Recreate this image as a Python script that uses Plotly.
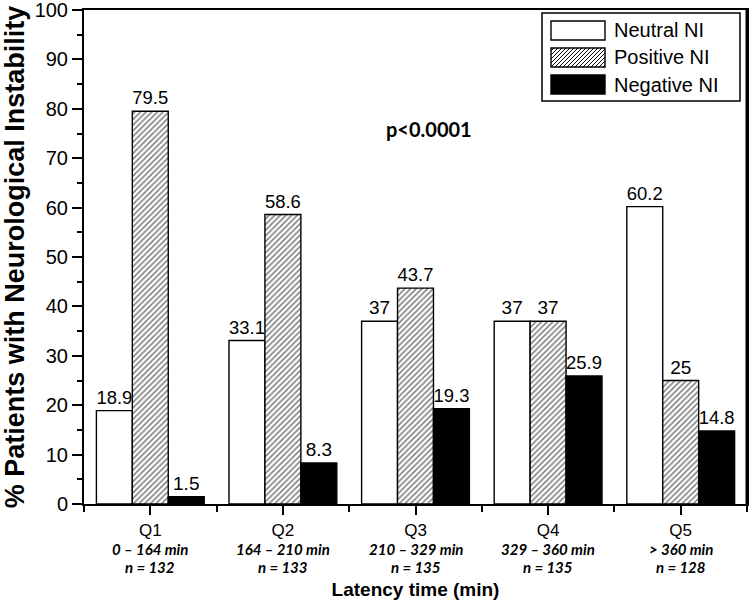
import plotly.graph_objects as go

categories = ["Q1", "Q2", "Q3", "Q4", "Q5"]
ranges = ["0 – 164 min", "164 – 210 min", "210 – 329 min", "329 – 360 min", "> 360 min"]
counts = ["n = 132", "n = 133", "n = 135", "n = 135", "n = 128"]
neutral = [18.9, 33.1, 37, 37, 60.2]
positive = [79.5, 58.6, 43.7, 37, 25]
negative = [1.5, 8.3, 19.3, 25.9, 14.8]
series_names = ["Neutral NI", "Positive NI", "Negative NI"]
y_ticks = [0, 10, 20, 30, 40, 50, 60, 70, 80, 90, 100]
p_text = "p<0.0001"

W, H = 749, 605
ML, MR, MT, MB = 84, 2, 10, 101
PW, PH = W - ML - MR, H - MT - MB

def px2paper(x, y):
    return (x - ML) / PW, (H - MB - y) / PH

xpos = list(range(len(categories)))

label_font = dict(family="Liberation Sans, Arial", size=19, color="black")
outline = dict(color="black", width=1.4)

fig = go.Figure()
fig.add_bar(x=xpos, y=neutral, name=series_names[0], marker=dict(color="white", line=outline),
            texttemplate="%{y}", textposition="outside", textfont=label_font,
            cliponaxis=False, showlegend=False)
fig.add_bar(x=xpos, y=positive, name=series_names[1],
            marker=dict(color="white", line=outline,
                        pattern=dict(shape="/", fgcolor="black", bgcolor="white", size=4, solidity=0.38)),
            texttemplate="%{y}", textposition="outside", textfont=label_font,
            cliponaxis=False, showlegend=False)
fig.add_bar(x=xpos, y=negative, name=series_names[2], marker=dict(color="black", line=outline),
            texttemplate="%{y}", textposition="outside", textfont=label_font,
            cliponaxis=False, showlegend=False)

fig.update_layout(
    width=W, height=H,
    margin=dict(l=ML, r=MR, t=MT, b=MB, autoexpand=False),
    plot_bgcolor="white", paper_bgcolor="white",
    barmode="group", bargap=0.187, bargroupgap=0,
    font=dict(family="Liberation Sans, Arial", color="black"),
)
fig.update_xaxes(
    automargin=False,
    range=[-0.5, len(categories) - 0.5], tickmode="array", tickvals=xpos, ticktext=categories,
    tickfont=dict(size=17, family="Liberation Sans, Arial"), ticklabelstandoff=1,
    ticklabeloverflow="allow",
    ticks="outside", ticklen=9, tickwidth=2, tickcolor="black",
    minor=dict(tickmode="linear", tick0=0.5, dtick=1, ticks="outside", ticklen=6, tickwidth=2, tickcolor="black"),
    showline=True, linecolor="black", linewidth=2, mirror=True, showgrid=False, zeroline=False,
    title=dict(text="<b>Latency time (min)</b>", font=dict(size=19, family="Liberation Sans, Arial"), standoff=43),
)
fig.update_yaxes(
    automargin=False,
    range=[0, 100.001], tickmode="array", tickvals=y_ticks, ticklabeloverflow="allow",
    tickfont=dict(size=20, family="Liberation Sans, Arial"),
    ticks="outside", ticklen=10, tickwidth=2, tickcolor="black",
    minor=dict(tickmode="linear", tick0=5, dtick=10, ticks="outside", ticklen=5, tickwidth=2, tickcolor="black"),
    showline=True, linecolor="black", linewidth=2, mirror=True, showgrid=False, zeroline=False,
    title=dict(text="<b>% Patients with Neurological Instability</b>", font=dict(size=27, family="Liberation Sans, Arial"), standoff=22),
)

# sub-labels under categories
sub_font = dict(family="Lato", size=15, color="black")
for xp, r, n in zip(xpos, ranges, counts):
    fig.add_annotation(x=xp, y=px2paper(0, 549)[1], xref="x", yref="paper", text=f"<b><i>{r}</i></b>",
                       showarrow=False, font=sub_font, yanchor="middle")
    fig.add_annotation(x=xp, y=px2paper(0, 567)[1], xref="x", yref="paper", text=f"<b><i>{n}</i></b>",
                       showarrow=False, font=sub_font, yanchor="middle")

fig.add_annotation(x=2.1, y=76, xref="x", yref="y", text=f"<b>{p_text}</b>", showarrow=False,
                   font=dict(family="Lato", size=20, color="black"))

# thicker right frame
fig.add_shape(type="line", xref="paper", yref="paper", x0=1, x1=1, y0=0, y1=1,
              line=dict(color="black", width=3))

# custom legend
bx0, by0 = px2paper(542, 13)
bx1, by1 = px2paper(740, 101)
fig.add_shape(type="rect", xref="paper", yref="paper", x0=bx0, y0=by1, x1=bx1, y1=by0,
              line=dict(color="black", width=1.5), fillcolor="white")
rows = [(21, 40), (48, 67), (75, 94)]
sx0, sx1 = 551, 605
for i, (ya, yb) in enumerate(rows):
    p0 = px2paper(sx0, ya)
    p1 = px2paper(sx1, yb)
    fill = "black" if i == 2 else "white"
    fig.add_shape(type="rect", xref="paper", yref="paper", x0=p0[0], y0=p1[1], x1=p1[0], y1=p0[1],
                  line=dict(color="black", width=1.4), fillcolor=fill)
    if i == 1:
        segs = []
        k = sx0 + ya + 3
        while k < sx1 + yb:
            xa = max(sx0, k - yb)
            xb = min(sx1, k - ya)
            if xb > xa:
                a = px2paper(xa, k - xa)
                b = px2paper(xb, k - xb)
                segs.append(f"M{a[0]:.5f},{a[1]:.5f}L{b[0]:.5f},{b[1]:.5f}")
            k += 4
        fig.add_shape(type="path", xref="paper", yref="paper", path="".join(segs),
                      line=dict(color="black", width=1))
    tx, ty = px2paper(612, (ya + yb) / 2)
    fig.add_annotation(x=tx, y=ty, xref="paper", yref="paper", xanchor="left", yanchor="middle",
                       text=series_names[i], showarrow=False,
                       font=dict(family="Liberation Sans, Arial", size=20, color="black"))

fig.write_html("out.html", config={"displayModeBar": False},
               post_script="document.body.style.margin='0px';document.body.style.overflow='hidden';")
